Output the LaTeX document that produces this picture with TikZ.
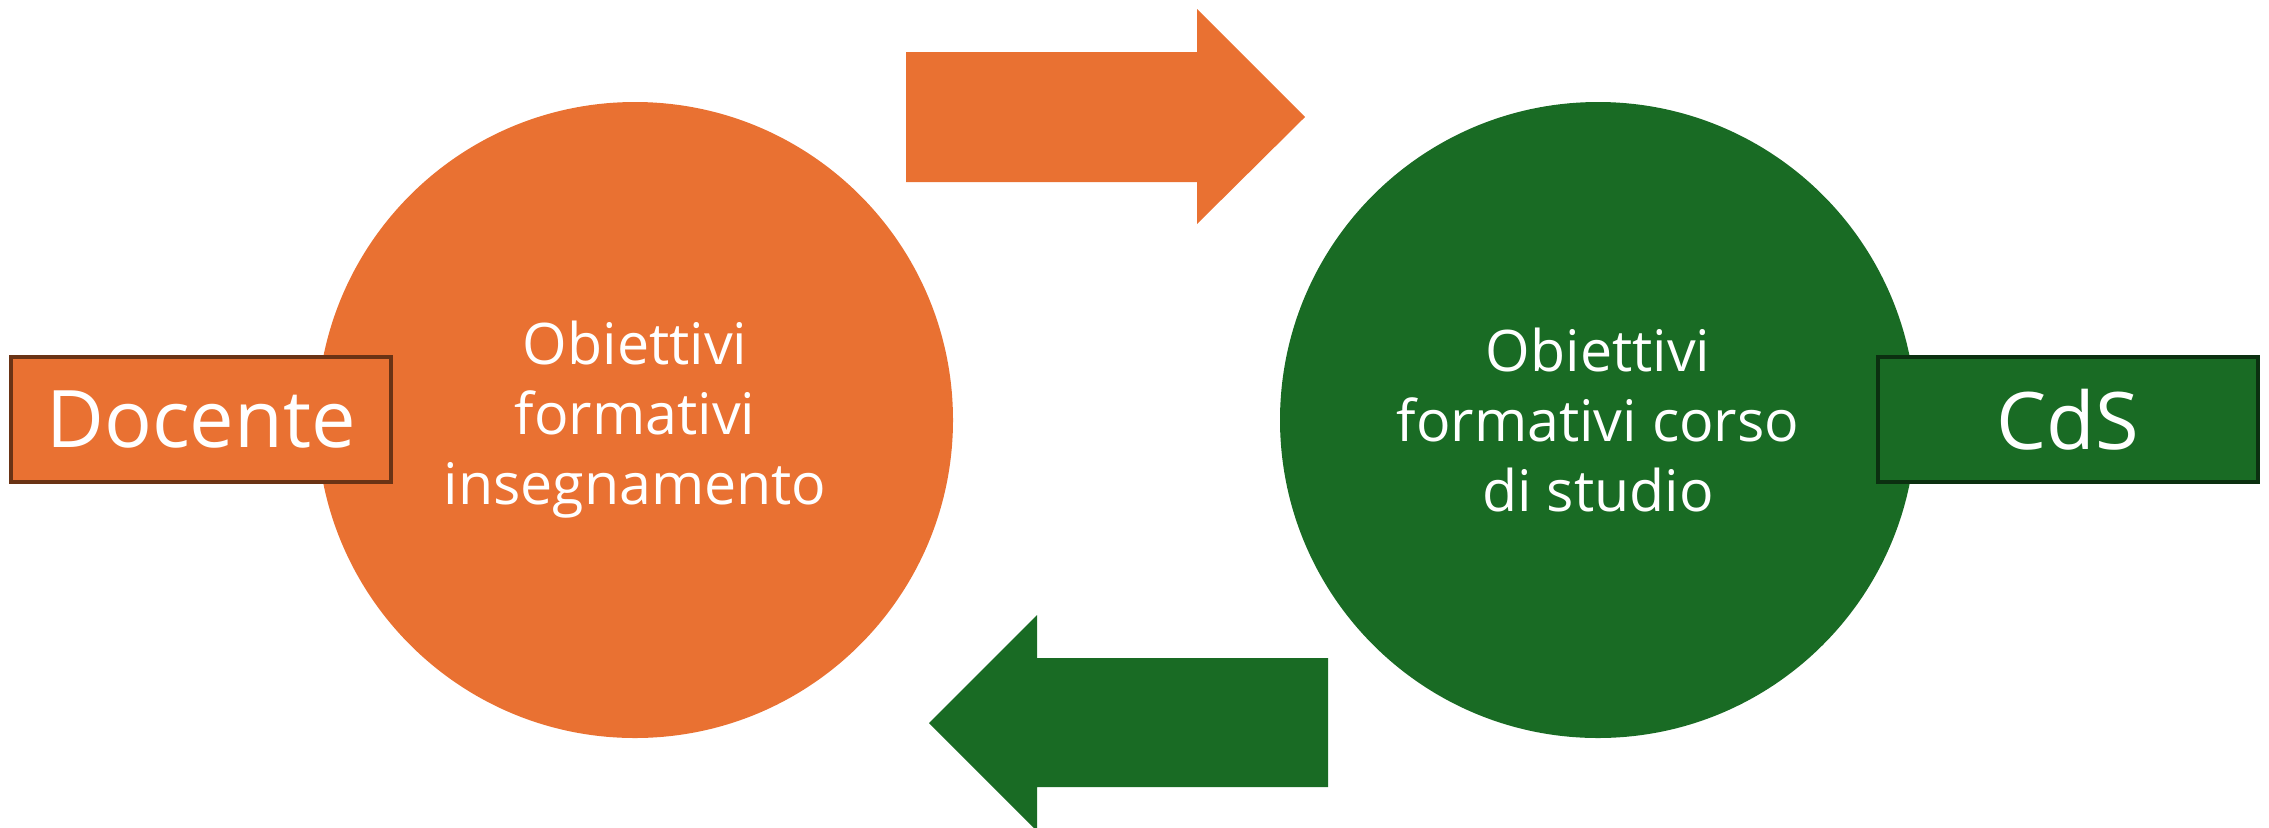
\documentclass[tikz,border=0pt]{standalone}
\usepackage{fontspec}
\setmainfont{Open Sans}
\definecolor{arancio}{HTML}{E97132}
\definecolor{marrone}{HTML}{6A3315}
\definecolor{verde}{HTML}{196B24}
\definecolor{verdescuro}{HTML}{0B3010}

\begin{document}
\begin{tikzpicture}
		\tikzstyle{cerchio} = [circle,minimum size=6.36cm,inner sep=0pt,text=white,align=center,font=\fontsize{16.3}{19.9}\selectfont];
		\tikzstyle{etichetta} = [rectangle,minimum width=3.8cm,minimum height=1.25cm,inner sep=0pt,line width=1.2pt,text=white,font=\fontsize{22.6}{26}\selectfont];
		\useasboundingbox (0,0) rectangle (22.69,8.27);
		\node[cerchio,fill=arancio] (obinse) at (6.35,4.07) {Obiettivi\\formativi\\insegnamento};
		\node[cerchio,fill=verde] (obcds) at (15.98,4.07) {Obiettivi\\formativi corso\\di studio};
		\node[etichetta,fill=arancio,draw=marrone] (docente) at (2.01,4.075) {Docente};
		\node[etichetta,fill=verde,draw=verdescuro] (cds) at (20.68,4.075) {CdS};
		% frecce
		\fill[arancio] (9.06,7.75) -- (11.97,7.75) -- (11.97,8.18) -- (13.05,7.10) -- (11.97,6.03) -- (11.97,6.45) -- (9.06,6.45) -- cycle;
		\fill[verde] (13.28,1.69) -- (10.37,1.69) -- (10.37,2.12) -- (9.29,1.04) -- (10.37,-0.04) -- (10.37,0.40) -- (13.28,0.40) -- cycle;
	\end{tikzpicture}
\end{document}
